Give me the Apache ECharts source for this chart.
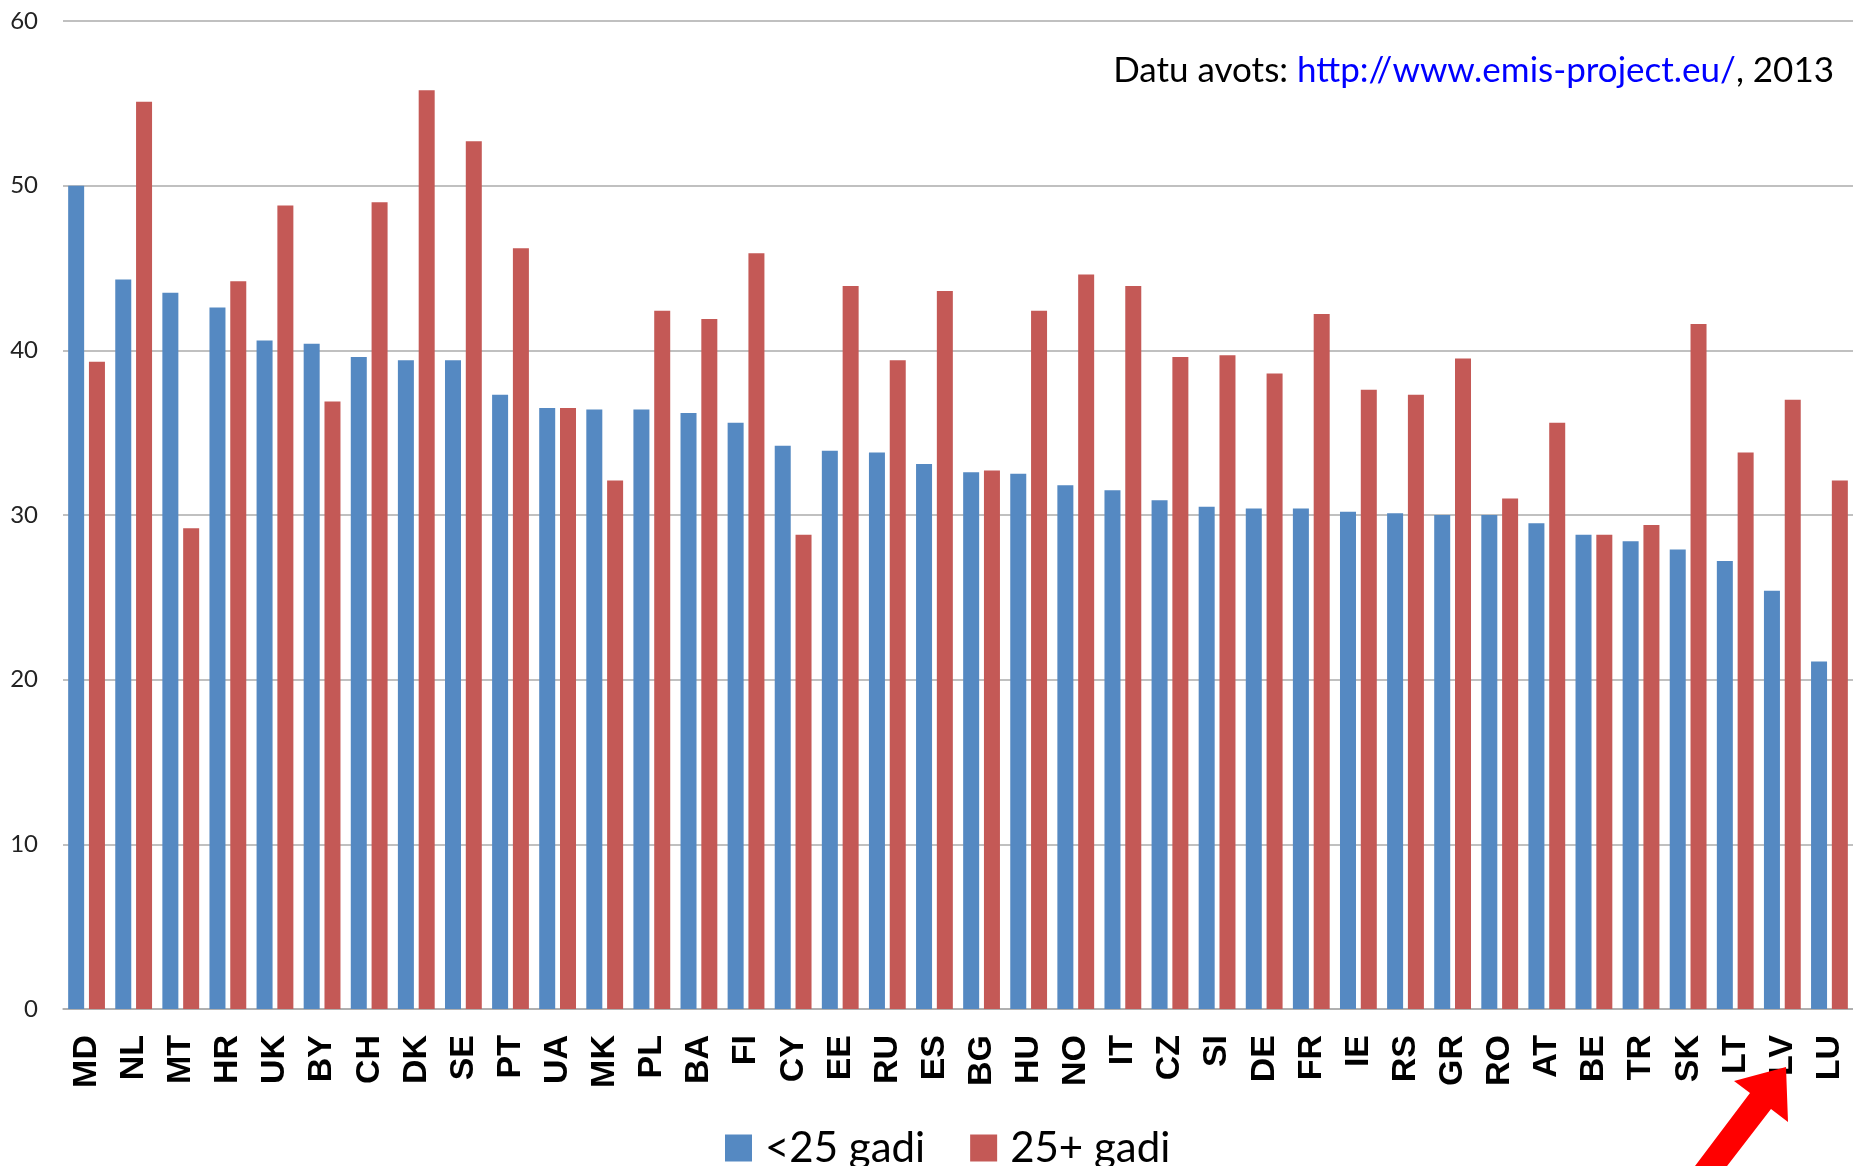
<!DOCTYPE html>
<html>
<head>
<meta charset="utf-8">
<title>Bezdarbs</title>
<script src="https://cdn.jsdelivr.net/npm/echarts@6/dist/echarts.min.js"></script>
<style>
  html, body { margin: 0; padding: 0; background: #fff; }
  #chart { width: 1853px; height: 1166px; }
</style>
</head>
<body>
<div id="chart"></div>
<script>
// valstis
const countries = ["MD", "NL", "MT", "HR", "UK", "BY", "CH", "DK", "SE", "PT", "UA", "MK", "PL", "BA", "FI", "CY", "EE", "RU", "ES",
  "BG", "HU", "NO", "IT", "CZ", "SI", "DE", "FR", "IE", "RS", "GR", "RO", "AT", "BE", "TR", "SK", "LT", "LV", "LU"];
// <25 gadi
const under25 = [50.0, 44.3, 43.5, 42.6, 40.6, 40.4, 39.6, 39.4, 39.4, 37.3, 36.5, 36.4, 36.4, 36.2, 35.6, 34.2, 33.9, 33.8, 33.1,
  32.6, 32.5, 31.8, 31.5, 30.9, 30.5, 30.4, 30.4, 30.2, 30.1, 30.0, 30.0, 29.5, 28.8, 28.4, 27.9, 27.2, 25.4, 21.1];
// 25+ gadi
const over25 = [39.3, 55.1, 29.2, 44.2, 48.8, 36.9, 49.0, 55.8, 52.7, 46.2, 36.5, 32.1, 42.4, 41.9, 45.9, 28.8, 43.9, 39.4, 43.6,
  32.7, 42.4, 44.6, 43.9, 39.6, 39.7, 38.6, 42.2, 37.6, 37.3, 39.5, 31.0, 35.6, 28.8, 29.4, 41.6, 33.8, 37.0, 32.1];
const seriesNames = ["<25 gadi", "25+ gadi"];

const chart = echarts.init(document.getElementById("chart"));

const option = {
  animation: false,
  color: ["#5589C2", "#C45956"],
  title: {
    text: "{a|Datu avots: }{b|http://www.emis-project.eu/}{a|, 2013}",
    right: 14,
    top: 48,
    textStyle: {
      fontWeight: "normal",
      rich: {
        a: { fontFamily: "Lato", fontSize: 35, fontWeight: "normal", color: "#000" },
        b: { fontFamily: "Lato", fontSize: 35, fontWeight: "normal", color: "#0000FF" }
      }
    }
  },
  legend: {
    data: seriesNames,
    left: 720,
    top: 1122,
    icon: "rect",
    itemWidth: 27,
    itemHeight: 27,
    itemGap: 45,
    textStyle: {
      fontFamily: "Lato",
      fontSize: 42,
      color: "#000",
      padding: [0, 0, 0, 8]
    }
  },
  grid: {
    left: 63,
    right: 0,
    top: 21,
    bottom: 157,
    containLabel: false,
    outerBoundsMode: "none"
  },
  xAxis: {
    type: "category",
    data: countries,
    axisLine: { show: true, lineStyle: { color: "#ababab", width: 1.5 } },
    axisTick: { show: false },
    axisLabel: {
      interval: 0,
      rotate: 90,
      margin: 26,
      fontFamily: "Liberation Sans",
      fontWeight: "bold",
      fontSize: 34,
      color: "#000"
    }
  },
  yAxis: {
    type: "value",
    min: 0,
    max: 60,
    interval: 10,
    axisLine: { show: false },
    axisTick: { show: false },
    axisLabel: {
      margin: 25,
      fontFamily: "Lato",
      fontSize: 24,
      color: "#222"
    },
    splitLine: { lineStyle: { color: "#ababab", width: 1.5 } }
  },
  series: [
    {
      name: seriesNames[0],
      type: "bar",
      data: under25,
      barWidth: 16,
      barGap: "30%"
    },
    {
      name: seriesNames[1],
      type: "bar",
      data: over25,
      barWidth: 16,
      barGap: "30%"
    }
  ],
  // sarkanā bulta uz LV
  graphic: [
    {
      type: "polygon",
      z: 100,
      shape: {
        points: [[1786, 1067], [1788, 1122], [1771, 1109], [1724, 1170], [1692, 1170], [1750, 1093], [1734, 1081]]
      },
      style: { fill: "#FF0000" }
    }
  ]
};

chart.setOption(option);
</script>
</body>
</html>
